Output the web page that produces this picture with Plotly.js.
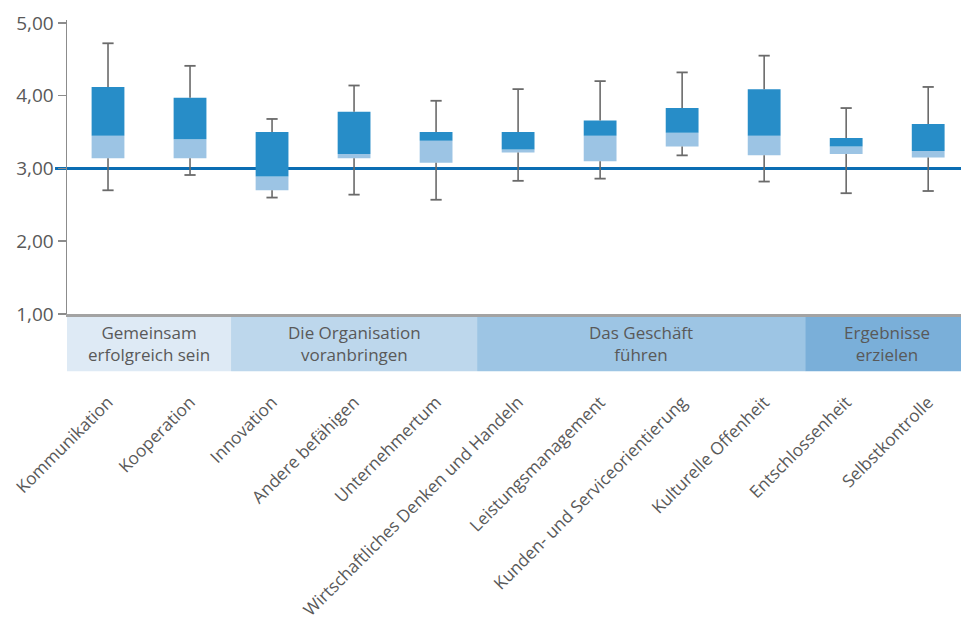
<!DOCTYPE html>
<html>
<head>
<meta charset="utf-8">
<script src="https://cdn.plot.ly/plotly-3.0.1.min.js"></script>
<style>html,body{margin:0;padding:0;background:#fff;}#chart{width:961px;height:622px;}</style>
</head>
<body>
<div id="chart"></div>
<script>
const categories = ["Kommunikation","Kooperation","Innovation","Andere befähigen","Unternehmertum","Wirtschaftliches Denken und Handeln","Leistungsmanagement","Kunden- und Serviceorientierung","Kulturelle Offenheit","Entschlossenheit","Selbstkontrolle"];
const whiskerHigh = [4.72,4.41,3.68,4.14,3.93,4.09,4.20,4.32,4.55,3.83,4.12];
const q3Values    = [4.12,3.97,3.50,3.78,3.50,3.50,3.66,3.83,4.09,3.42,3.61];
const medianValues= [3.45,3.40,2.89,3.20,3.38,3.26,3.45,3.49,3.45,3.30,3.24];
const q1Values    = [3.14,3.14,2.70,3.14,3.08,3.22,3.10,3.30,3.18,3.20,3.15];
const whiskerLow  = [2.70,2.91,2.60,2.64,2.57,2.83,2.86,3.18,2.82,2.66,2.69];
const referenceValue = 3.0;
const groupLabels = ["Gemeinsam<br>erfolgreich sein","Die Organisation<br>voranbringen","Das Geschäft<br>führen","Ergebnisse<br>erzielen"];
const groupStart = [0,2,5,9];
const groupEnd   = [1,4,8,10];
const yTicks = [1,2,3,4,5];

const groupColors = ["#deeaf5","#bdd7ec","#9dc5e4","#7aafd9"];
const yRange = [1, 5.04];
const xRange = [-0.5, 10.4];

// whisker segments
const wx = [], wy = [];
categories.forEach((c,i)=>{
  wx.push(c,c,null,c,c,null);
  wy.push(whiskerLow[i], q1Values[i], null, q3Values[i], whiskerHigh[i], null);
});
const capX = [], capY = [];
categories.forEach((c,i)=>{ capX.push(c,c); capY.push(whiskerLow[i], whiskerHigh[i]); });

const traces = [
  {type:'bar', x:categories, base:q1Values, y:medianValues.map((m,i)=>m-q1Values[i]),
   width:0.4, marker:{color:'#9cc4e4', line:{width:0}}, hoverinfo:'skip', showlegend:false},
  {type:'bar', x:categories, base:medianValues, y:q3Values.map((q,i)=>q-medianValues[i]),
   width:0.4, marker:{color:'#278dc8', line:{width:0}}, hoverinfo:'skip', showlegend:false},
  {type:'scatter', mode:'lines', x:wx, y:wy, connectgaps:false,
   line:{color:'#6a6a6a', width:1.6}, hoverinfo:'skip', showlegend:false},
  {type:'scatter', mode:'markers', x:capX, y:capY,
   marker:{symbol:'line-ew', size:8, color:'#6a6a6a', line:{color:'#6a6a6a', width:1.8}}, hoverinfo:'skip', showlegend:false}
];

const shapes = [];
const annotations = [];
groupLabels.forEach((g,i)=>{
  shapes.push({type:'rect', layer:'below', xref:'x', yref:'paper',
    x0: groupStart[i]-0.5, x1: groupEnd[i]+0.5, y0:-0.195, y1:-0.006,
    fillcolor: groupColors[i], line:{width:0}});
  annotations.push({xref:'x', yref:'paper', x:(groupStart[i]+groupEnd[i])/2, y:-0.1,
    text:g, showarrow:false, xanchor:'center', yanchor:'middle',
    font:{family:'Open Sans, sans-serif', size:17, color:'#595959'}});
});
const refFrac = (referenceValue - yRange[0])/(yRange[1]-yRange[0]);
shapes.push({type:'line', layer:'below', xref:'paper', yref:'paper', x0:-0.0134, x1:1,
  y0:refFrac, y1:refFrac, line:{color:'#0b6db3', width:3}});

const layout = {
  width:961, height:622,
  margin:{l:67, r:0, t:20, b:307.5, pad:0},
  paper_bgcolor:'#ffffff', plot_bgcolor:'#ffffff',
  separators:', ',
  barmode:'overlay',
  showlegend:false,
  xaxis:{type:'category', range:xRange, showgrid:false, zeroline:false,
    showline:true, linecolor:'#a3a3a3', linewidth:2.5, ticks:'',
    tickangle:-45, ticklabelstandoff:69,
    tickfont:{family:'Open Sans, sans-serif', size:17.2, color:'#595959'}},
  yaxis:{range:yRange, tickvals:yTicks, tickformat:'.2f', showgrid:false, zeroline:false,
    showline:true, linecolor:'#8c8c8c', linewidth:1.5,
    ticks:'outside', ticklen:8, tickwidth:1.5, tickcolor:'#8c8c8c',
    tickfont:{family:'Open Sans, sans-serif', size:19, color:'#595959'}},
  shapes:shapes,
  annotations:annotations
};
Plotly.newPlot('chart', traces, layout, {staticPlot:true, displayModeBar:false});
</script>
</body>
</html>
